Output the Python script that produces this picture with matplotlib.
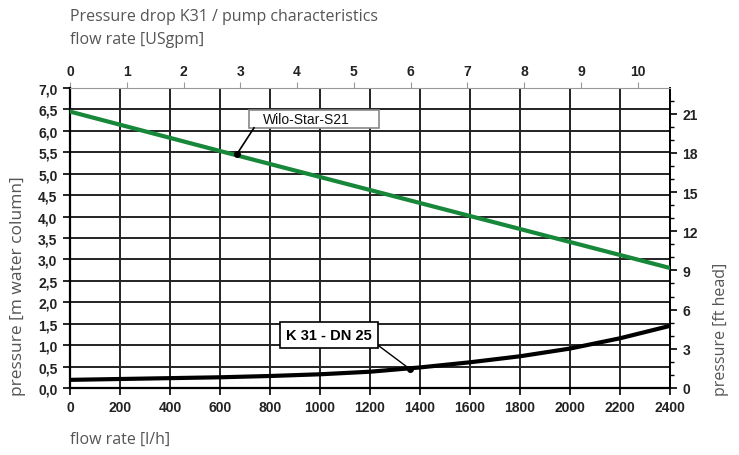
import numpy as np
import matplotlib
matplotlib.use("Agg")
import matplotlib.pyplot as plt
from matplotlib.patches import Rectangle
from matplotlib.ticker import FuncFormatter, MultipleLocator

# flow rate in l/h, pressure in m water column
flow = [0, 200, 400, 600, 800, 1000, 1200, 1400, 1600, 1800, 2000, 2200, 2400]
k31 = [0.19, 0.21, 0.23, 0.25, 0.28, 0.32, 0.38, 0.48, 0.60, 0.74, 0.92, 1.16, 1.45]
pump_flow = [0, 600, 1200, 1800, 2400]
pump = [6.45, 5.53, 4.62, 3.71, 2.80]

wilo_pt = (668, 5.46)
k31_pt = (1360, 0.44)

LH_PER_GPM = 227.1247
FT_PER_M = 3.28084

TICKFONT = 'Liberation Sans'

fig = plt.figure(figsize=(7.39, 4.56), dpi=100)
ax = fig.add_axes([70/739, 67/456, 600/739, 300/456])

ax.plot(pump_flow, pump, color='#17873a', lw=3, zorder=4)
ax.plot(flow, k31, color='black', lw=3, zorder=4)

ax.set_xlim(0, 2400)
ax.set_ylim(0, 7.0)
ax.xaxis.set_major_locator(MultipleLocator(200))
ax.yaxis.set_major_locator(MultipleLocator(0.5))
ax.yaxis.set_major_formatter(FuncFormatter(lambda v, p: f"{v:.1f}".replace('.', ',')))
ax.grid(True, color='#222222', lw=1.4)
ax.set_axisbelow(True)

ax.tick_params(axis='both', direction='out', length=5, width=1.2, color='black',
               labelsize=10, labelcolor='#222222', pad=4)
for lab in ax.get_xticklabels() + ax.get_yticklabels():
    lab.set_fontweight('bold')
    lab.set_family(TICKFONT)

for s in ['left', 'bottom']:
    ax.spines[s].set_linewidth(1.6)
    ax.spines[s].set_color('black')
ax.spines['top'].set_color('#999999')
ax.spines['top'].set_linewidth(0.8)
ax.spines['right'].set_color('black')
ax.spines['right'].set_linewidth(1.4)

# top axis: US gpm
top = ax.secondary_xaxis('top', functions=(lambda x: x / LH_PER_GPM, lambda g: g * LH_PER_GPM))
top.set_xticks(range(0, 11))
top.tick_params(direction='out', length=4, width=0.8, color='#999999', labelsize=10,
                labelcolor='#222222', pad=3)
for lab in top.get_xticklabels():
    lab.set_fontweight('bold')
    lab.set_family(TICKFONT)
top.spines['top'].set_visible(False)

# right axis: ft head
right = ax.secondary_yaxis('right', functions=(lambda m: m * FT_PER_M, lambda f: f / FT_PER_M))
right.set_yticks(range(0, 22, 3))
right.yaxis.set_minor_locator(MultipleLocator(1))
right.tick_params(which='major', direction='out', length=5, width=1.2, color='black',
                  labelsize=10, labelcolor='#222222', pad=4)
right.tick_params(which='minor', direction='out', length=3, width=1.0, color='black')
for lab in right.get_yticklabels():
    lab.set_fontweight('bold')
    lab.set_family(TICKFONT)
right.spines['right'].set_visible(False)

# annotation: Wilo-Star-S21
ax.add_patch(Rectangle((716, 6.07), 520, 0.42, fc='white', ec='#888888', lw=1.2, zorder=6))
ax.text(772, 6.27, 'Wilo-Star-S21', fontsize=10, family='Liberation Sans', color='#111111',
        ha='left', va='center', zorder=7)
ax.plot([736, wilo_pt[0]], [6.07, wilo_pt[1]], color='black', lw=1.2, zorder=6)
ax.plot(*wilo_pt, 'o', color='black', ms=4, zorder=6)

# annotation: K 31 - DN 25
ax.add_patch(Rectangle((840, 0.93), 392, 0.61, fc='white', ec='black', lw=1.2, zorder=6))
ax.text(1036, 1.23, 'K 31 - DN 25', fontsize=10.5, fontweight='bold', family='Liberation Sans',
        color='black', ha='center', va='center', zorder=7)
ax.plot([1236, k31_pt[0]], [0.98, k31_pt[1]], color='black', lw=1.0, zorder=6)
ax.plot(*k31_pt, 'o', color='black', ms=4, zorder=6)

label_kw = dict(fontsize=11.5, color='#555555', family='Open Sans')
fig.text(70/739, 1 - 17/456, 'Pressure drop K31 / pump characteristics', va='center', ha='left', **label_kw)
fig.text(70/739, 1 - 40/456, 'flow rate [USgpm]', va='center', ha='left', **label_kw)
fig.text(70/739, 1 - 440/456, 'flow rate [l/h]', va='center', ha='left', **label_kw)
fig.text(18/739, 1 - 396/456, 'pressure [m water column]', rotation=90, va='bottom', ha='center',
         fontsize=12.5, color='#555555', family='Open Sans')
fig.text(721/739, 1 - 396/456, 'pressure [ft head]', rotation=90, va='bottom', ha='center', **label_kw)

fig.savefig('out.png', dpi=100)
